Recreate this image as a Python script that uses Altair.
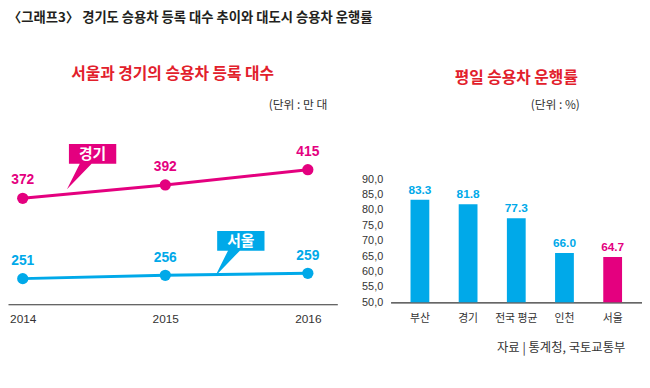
import altair as alt
import pandas as pd

# ---------------- data ----------------
years = [2014, 2015, 2016]
gyeonggi = [372, 392, 415]
seoul = [251, 256, 259]

bar_cats = ["부산", "경기", "전국 평균", "인천", "서울"]
bar_vals = [83.3, 81.8, 77.3, 66.0, 64.7]

# callout anchor positions (data space: year, value)
callout_names = ["경기", "서울"]
callout_x = [2014.49, 2015.53]
callout_y = [439, 308]

MAGENTA = "#e4007f"
BLUE = "#00a9e9"
RED = "#e2202b"
DARK = "#333333"
KR = "Noto Sans CJK KR"
NUM = "Liberation Sans"

line_df = pd.DataFrame(
    {"year": years * 2, "value": gyeonggi + seoul,
     "series": ["경기"] * 3 + ["서울"] * 3}
)
call_df = pd.DataFrame({"series": callout_names, "year": callout_x, "value": callout_y})
bar_df = pd.DataFrame({"name": bar_cats, "value": bar_vals})

color_scale = alt.Scale(domain=["경기", "서울"], range=[MAGENTA, BLUE])

W1, H1 = 334, 212
xs = alt.X("year:Q", scale=alt.Scale(domain=[2013.8966, 2016.2069], nice=False, zero=False),
           axis=alt.Axis(values=years, format="d", title=None, grid=False, ticks=False,
                         labelFlush=False, domainColor=DARK, domainWidth=1.2,
                         labelFont=NUM, labelFontSize=12, labelColor=DARK, labelPadding=10))
ys = alt.Y("value:Q", scale=alt.Scale(domain=[212.4, 527.1], nice=False, zero=False), axis=None)

base = alt.Chart(line_df).encode(x=xs, y=ys,
                                 color=alt.Color("series:N", scale=color_scale, legend=None))
lines = base.mark_line(strokeWidth=3)
pts = base.mark_circle(size=130, opacity=1)
vals = base.mark_text(dy=-18, fontSize=14, fontWeight="bold", font=NUM).encode(text="value:Q")

path = "M-1,-0.417L1,-0.417L1,0.417L-0.042,0.417L-1.083,1.5L-0.542,0.417L-1,0.417Z"
cbase = alt.Chart(call_df).encode(
    x=alt.X("year:Q"), y=alt.Y("value:Q"),
    color=alt.Color("series:N", scale=color_scale, legend=None))
callouts = cbase.mark_point(shape=path, size=2304, filled=True, opacity=1, strokeWidth=0)
ctext = cbase.mark_text(fontSize=15, fontWeight="bold", font=KR, color="white").encode(
    text="series:N", color=alt.value("white"))

unit1 = alt.Chart(pd.DataFrame({"t": ["(단위 : 만 대"]})).mark_text(
    align="right", fontSize=12, font=KR, color=DARK).encode(
    text="t:N", x=alt.value(324), y=alt.value(10))

left = alt.layer(lines, pts, vals, callouts, ctext, unit1).properties(
    width=W1, height=H1,
    title=alt.TitleParams("서울과 경기의 승용차 등록 대수", font=KR, fontSize=16,
                          fontWeight="bold", color=RED, anchor="middle", offset=13))

# ---------------- right panel ----------------
W2, H2 = 255, 210
xb = alt.X("name:N", sort=bar_cats,
           scale=alt.Scale(paddingInner=0.61, paddingOuter=0.414),
           axis=alt.Axis(title=None, labelAngle=0, ticks=False, grid=False,
                         domainColor=DARK, domainWidth=1.2, labelFont=KR, labelFontSize=11,
                         labelColor=DARK, labelPadding=10))
yb = alt.Y("value:Q", scale=alt.Scale(domain=[50, 117.2], nice=False, zero=False),
           axis=alt.Axis(title=None, values=[50, 55, 60, 65, 70, 75, 80, 85, 90],
                         labelExpr="replace(format(datum.value, '.1f'), '.', ',')",
                         domain=False, ticks=False, grid=False, labelFont=NUM,
                         labelFontSize=11, labelColor=DARK, labelPadding=8))
bcol = alt.Color("name:N", scale=alt.Scale(domain=bar_cats,
                                           range=[BLUE, BLUE, BLUE, BLUE, MAGENTA]),
                 legend=None)
bbase = alt.Chart(bar_df).encode(x=xb, y=yb, color=bcol)
bars = bbase.mark_bar().encode(y2=alt.datum(50))
blabels = bbase.mark_text(baseline="bottom", dy=-3, fontSize=12, fontWeight="bold",
                          font=NUM).encode(text=alt.Text("value:Q", format=".1f"))

unit2 = alt.Chart(pd.DataFrame({"t": ["(단위 : %)"]})).mark_text(
    align="right", fontSize=12, font=KR, color=DARK).encode(
    text="t:N", x=alt.value(192), y=alt.value(10))
src = alt.Chart(pd.DataFrame({"t": ["자료 | 통계청, 국토교통부"]})).mark_text(
    align="center", fontSize=12.5, font=KR, color=DARK).encode(
    text="t:N", x=alt.value(173), y=alt.value(256))

right = alt.layer(bars, blabels, unit2, src).properties(
    width=W2, height=H2,
    title=alt.TitleParams("평일 승용차 운행률", font=KR, fontSize=16, fontWeight="bold",
                          color=RED, anchor="middle", offset=9))

chart = alt.hconcat(left, right, spacing=24).resolve_scale(color="independent").properties(
    padding={"left": 0, "top": 0, "right": 0, "bottom": 0},
    background="white",
    title=alt.TitleParams("〈그래프3〉 경기도 승용차 등록 대수 추이와 대도시 승용차 운행률",
                          font=KR, fontSize=13.5, fontWeight="bold", color="#231f20",
                          anchor="start", offset=43),
).configure_view(stroke=None, strokeWidth=0)

chart.save("out.html", embed_options={"renderer": "svg", "actions": False})
